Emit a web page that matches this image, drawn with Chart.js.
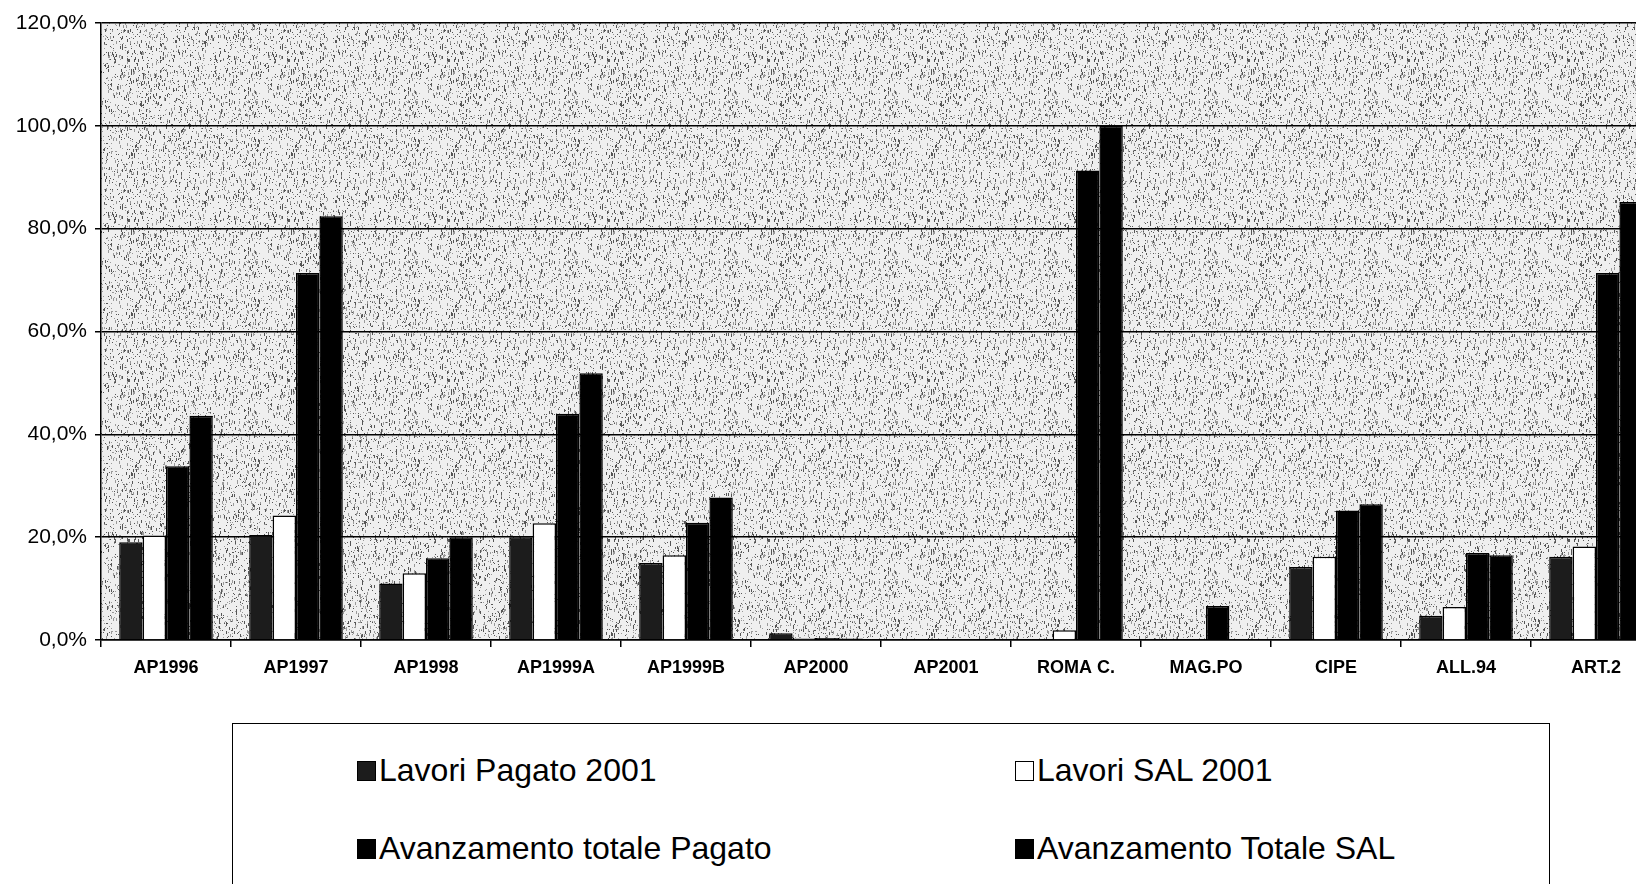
<!DOCTYPE html>
<html>
<head>
<meta charset="utf-8">
<script src="https://cdn.jsdelivr.net/npm/chart.js@4/dist/chart.umd.min.js"></script>
<style>
  html, body { margin: 0; padding: 0; background: #fff; overflow: hidden; width: 1636px; height: 884px; }
  #wrap { position: absolute; left: 0; top: 0; width: 1672px; height: 700px; }
  #legend {
    position: absolute; left: 232px; top: 723px; width: 1318px; height: 200px;
    border: 1.5px solid #000; box-sizing: border-box;
    font-family: "Liberation Sans", Arial, sans-serif; font-size: 32px; color: #000;
  }
  .item { position: absolute; display: flex; align-items: center; white-space: nowrap; }
  .sw { width: 19px; height: 20px; margin-right: 3px; box-sizing: border-box; border: 1.5px solid #000; }
</style>
</head>
<body>
<div id="wrap"><canvas id="myChart" width="1672" height="700"></canvas></div>
<div id="legend"></div>
<script>
var categories = ['AP1996', 'AP1997', 'AP1998', 'AP1999A', 'AP1999B', 'AP2000', 'AP2001', 'ROMA C.', 'MAG.PO', 'CIPE', 'ALL.94', 'ART.2'];
var seriesNames = ['Lavori Pagato 2001', 'Lavori SAL 2001', 'Avanzamento totale Pagato', 'Avanzamento Totale SAL'];
var lavoriPagato2001 = [19.0, 20.4, 11.0, 20.0, 15.0, 1.3, 0.1, 0, 0, 14.2, 4.7, 16.2];
var lavoriSal2001 = [20.3, 24.2, 13.0, 22.7, 16.5, 0.4, 0, 1.9, 0, 16.2, 6.4, 18.2];
var avanzamentoPagato = [33.8, 71.4, 15.9, 44.0, 22.8, 0.4, 0, 91.3, 6.6, 25.2, 16.9, 71.4];
var avanzamentoSal = [43.6, 82.4, 20.0, 51.9, 27.7, 0.3, 0, 100.0, 0, 26.4, 16.5, 85.2];
var yTicks = [0, 20, 40, 60, 80, 100, 120];

var fills = ['#1c1c1c', '#ffffff', '#000000', '#000000'];

// grainy grey backdrop like the scanned original
function makeGrain() {
    var c = document.createElement('canvas');
    c.width = 160; c.height = 160;
    var g = c.getContext('2d');
    g.fillStyle = '#efefef';
    g.fillRect(0, 0, 160, 160);
    var seed = 12345;
    function rnd() { seed = (seed * 1103515245 + 12345) % 2147483648; return seed / 2147483648; }
    for (var i = 0; i < 2600; i++) {
        var x = Math.floor(rnd() * 160), y = Math.floor(rnd() * 160);
        g.fillStyle = rnd() < 0.5 ? '#555' : '#999';
        g.fillRect(x, y, 1, rnd() < 0.3 ? 3 : 1);
    }
    return c;
}

var bgPlugin = {
    id: 'grainBg',
    beforeDraw: function (chart) {
        var a = chart.chartArea, ctx = chart.ctx;
        ctx.save();
        ctx.fillStyle = ctx.createPattern(makeGrain(), 'repeat');
        ctx.fillRect(a.left, a.top, a.right - a.left, a.bottom - a.top);
        ctx.restore();
    }
};

var data = [lavoriPagato2001, lavoriSal2001, avanzamentoPagato, avanzamentoSal];
var datasets = seriesNames.map(function (name, i) {
    return {
        label: name,
        data: data[i],
        backgroundColor: fills[i],
        borderColor: '#000',
        borderWidth: 1.5,
        categoryPercentage: 0.72,
        barPercentage: 1.0
    };
});

var ctx = document.getElementById('myChart').getContext('2d');
var myChart = new Chart(ctx, {
    type: 'bar',
    data: { labels: categories, datasets: datasets },
    plugins: [bgPlugin],
    options: {
        responsive: false,
        animation: false,
        devicePixelRatio: 1,
        layout: { padding: { top: 23, right: 11, left: 0, bottom: 0 } },
        plugins: { legend: { display: false }, tooltip: { enabled: false } },
        scales: {
            x: {
                grid: { offset: true, drawOnChartArea: false, color: '#000', lineWidth: 1.5, tickLength: 7 },
                border: { color: '#000', width: 1.5 },
                ticks: { color: '#000', font: { family: 'Liberation Sans', size: 18, weight: 'bold' }, padding: 10, maxRotation: 0 },
                afterFit: function (s) { s.height = 60; }
            },
            y: {
                min: 0, max: 120,
                afterBuildTicks: function (s) { s.ticks = yTicks.map(function (v) { return { value: v }; }); },
                grid: { color: '#000', lineWidth: 1.5, tickLength: 6 },
                border: { color: '#000', width: 1.5 },
                ticks: {
                    color: '#000', padding: 8,
                    font: { family: 'Liberation Sans', size: 21 },
                    callback: function (v) { return v.toFixed(1).replace('.', ',') + '%'; }
                },
                afterFit: function (s) { s.width = 101; }
            }
        }
    }
});

// legend box in two columns, built from the series names
var legend = document.getElementById('legend');
var pos = [[124, 28], [782, 28], [124, 106], [782, 106]];
seriesNames.forEach(function (name, i) {
    var d = document.createElement('div');
    d.className = 'item';
    d.style.left = pos[i][0] + 'px';
    d.style.top = pos[i][1] + 'px';
    d.innerHTML = '<span class="sw" style="background:' + fills[i] + '"></span>' + name;
    legend.appendChild(d);
});
</script>
</body>
</html>
